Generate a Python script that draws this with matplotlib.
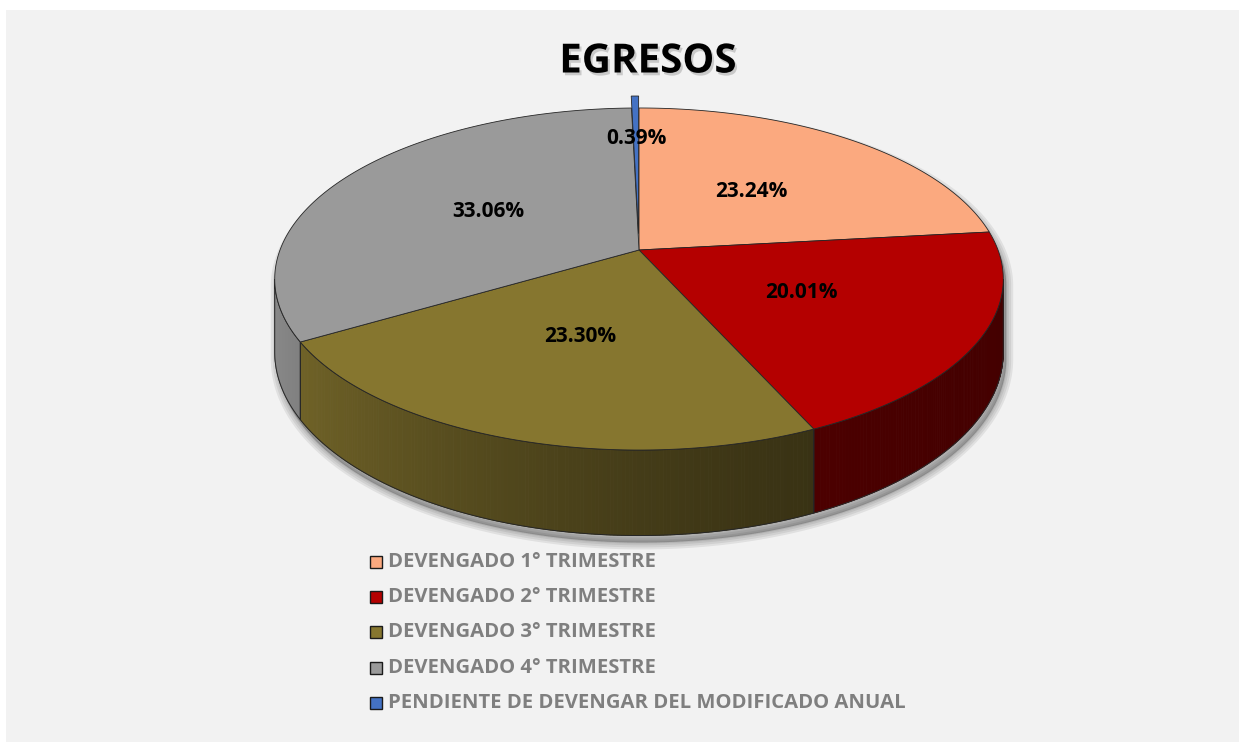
import numpy as np
import matplotlib
matplotlib.use("Agg")
import matplotlib.pyplot as plt
from matplotlib.patches import Polygon, Rectangle
import matplotlib.patheffects as pe

# ---------------- data ----------------
title = "EGRESOS"
categories = ["DEVENGADO 1° TRIMESTRE", "DEVENGADO 2° TRIMESTRE",
              "DEVENGADO 3° TRIMESTRE", "DEVENGADO 4° TRIMESTRE",
              "PENDIENTE DE DEVENGAR DEL MODIFICADO ANUAL"]
values = [23.24, 20.01, 23.30, 33.06, 0.39]
labels = ["23.24%", "20.01%", "23.30%", "33.06%", "0.39%"]

# ---------------- style ----------------
colors = ["#FBA97F", "#B40000", "#86762F", "#9A9A9A", "#4472C4"]
explode = [0, 0, 0, 0, 0.1]
label_r = [0.5, 0.5, 0.5, 0.5, 0.66]
FONT = "Open Sans"

W, H = 1239, 742
fig = plt.figure(figsize=(W / 100, H / 100), dpi=100)
fig.patch.set_facecolor("white")
ax = fig.add_axes([0, 0, 1, 1])
ax.set_xlim(0, W)
ax.set_ylim(H, 0)
ax.axis("off")
ax.add_patch(Rectangle((6, 10), W - 6, H - 10, facecolor="#F2F2F2",
                       edgecolor="none", zorder=0))

# perspective projection of a tilted disk
CX, CY, R = 639, 250, 359
A, C, D0 = -123.7, 0.1696, 71


def proj(u, v, h=0.0):
    u = np.asarray(u, float)
    v = np.asarray(v, float)
    w = 1 + C * v
    return CX + R * u / w, (A * v + CY) / w + h * D0 / w


def rim(theta_deg, h=0.0, off=(0.0, 0.0), r=1.0):
    t = np.radians(theta_deg)
    return proj(off[0] + r * np.sin(t), off[1] + r * np.cos(t), h)


def shade(theta_deg):
    s = np.sin(np.radians(theta_deg))
    return 0.38 + 0.52 * ((1 - s) / 2) ** 2


total = sum(values)
bounds = np.concatenate([[0], np.cumsum(values)]) / total * 360.0

# silhouette angles
tt = np.linspace(0, 360, 3601)
xx, _ = rim(tt)
th_r = tt[np.argmax(xx)]
th_l = tt[np.argmin(xx)]

# ---------------- shadow ----------------
back = np.linspace(th_l, th_r + 360, 300)
front = np.linspace(th_r, th_l, 300)
bx, by = rim(back)
fx, fy = rim(front, h=1)
sx = np.concatenate([bx, fx]) + 3
sy = np.concatenate([by, fy]) + 7
for lw in [10, 7, 4, 1.5]:
    ax.add_patch(Polygon(np.column_stack([sx, sy]), closed=True,
                         facecolor=(0, 0, 0, 0.06), edgecolor=(0, 0, 0, 0.07),
                         linewidth=lw, joinstyle="round", zorder=1))

EDGE = "#262626"

# ---------------- sides ----------------
for i, val in enumerate(values):
    t0, t1 = bounds[i], bounds[i + 1]
    a0, a1 = max(t0, th_r), min(t1, th_l)
    if a1 <= a0 or explode[i] > 0:
        continue
    n = max(int((a1 - a0) / 0.5), 2)
    ts = np.linspace(a0, a1, n + 1)
    base = np.array(matplotlib.colors.to_rgb(colors[i]))
    for k in range(n):
        tq = np.array([ts[k], ts[k + 1]])
        x1, y1 = rim(tq)
        x2, y2 = rim(tq[::-1], h=1)
        col = np.clip(base * shade(tq.mean()), 0, 1)
        ax.add_patch(Polygon(np.column_stack([np.r_[x1, x2], np.r_[y1, y2]]),
                             closed=True, facecolor=col, edgecolor=col,
                             linewidth=0.6, zorder=2))
    x1, y1 = rim(ts)
    x2, y2 = rim(ts[::-1], h=1)
    ax.add_patch(Polygon(np.column_stack([np.r_[x1, x2], np.r_[y1, y2]]),
                         closed=True, facecolor="none", edgecolor=EDGE,
                         linewidth=0.7, zorder=3))

# ---------------- tops ----------------
for i, val in enumerate(values):
    t0, t1 = bounds[i], bounds[i + 1]
    tm = np.radians((t0 + t1) / 2)
    off = (explode[i] * np.sin(tm), explode[i] * np.cos(tm))
    ts = np.linspace(t0, t1, max(int((t1 - t0) * 2), 4))
    ax_, ay_ = rim(ts, off=off)
    ox, oy = proj(off[0], off[1])
    px = np.r_[ox, ax_]
    py = np.r_[oy, ay_]
    ax.add_patch(Polygon(np.column_stack([px, py]), closed=True,
                         facecolor=colors[i], edgecolor=EDGE, linewidth=0.6,
                         zorder=4 + (1 if explode[i] > 0 else 0)))

# ---------------- labels ----------------
for i, lab in enumerate(labels):
    t0, t1 = bounds[i], bounds[i + 1]
    tm = np.radians((t0 + t1) / 2)
    rr = label_r[i] + explode[i]
    lx, ly = proj(rr * np.sin(tm), rr * np.cos(tm))
    ax.text(lx, ly, lab, ha="center", va="center", fontsize=15,
            fontweight="bold", family=FONT, color="black", zorder=10)

# ---------------- title ----------------
ax.text(648, 62, title, ha="center", va="center", fontsize=29,
        fontweight="bold", family=FONT, color="black", zorder=10,
        path_effects=[pe.withSimplePatchShadow(offset=(1.5, -2),
                                               shadow_rgbFace="#999999",
                                               alpha=0.45)])

# ---------------- legend ----------------
leg_x, leg_y0, leg_dy = 370, 562, 35.2
for i, cat in enumerate(categories):
    yy = leg_y0 + i * leg_dy
    ax.add_patch(Rectangle((leg_x, yy - 6), 12, 12, facecolor=colors[i],
                           edgecolor="#1a1a1a", linewidth=1.0, zorder=10))
    ax.text(leg_x + 18, yy, cat, ha="left", va="center", fontsize=14.6,
            fontweight="bold", family=FONT, color="#7F7F7F", zorder=10)

fig.savefig("out.png", dpi=100, facecolor=fig.get_facecolor())
